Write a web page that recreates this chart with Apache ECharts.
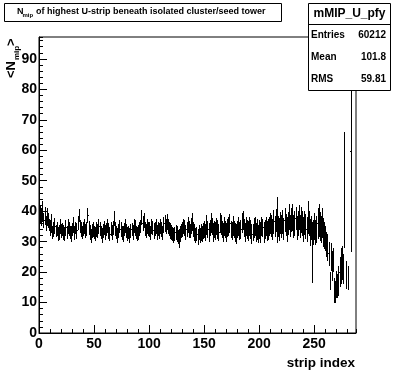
<!DOCTYPE html>
<html><head><meta charset="utf-8">
<script src="https://cdn.jsdelivr.net/npm/echarts@6/dist/echarts.min.js"></script>
<style>html,body{margin:0;padding:0;background:#fff}#c{width:396px;height:372px}</style>
</head><body><div id="c"></div>
<script>
// Profile bin means (strip index bins 0..287); null = empty bin
const means = [
 35,39,38,40,37,38.5,36,38,37,35.5,
 34.5,36,33,34,35,33.5,34,32.5,33,35,
 33.5,34,33,32.5,34.5,33,35,34,33,32.5,
 34,35.5,33,34.5,33.5,36,38.5,35,34,33,
 34,35,33.5,34,38.5,34.5,33,32,33.5,34,
 33,32.5,34,33.5,35,34,33,32,33.5,34.5,
 33,34,35,33.5,32.5,34,33,34.5,37.5,34,
 33,32,33.5,35,34,33,32.5,34,35,33.5,
 32.5,33,32,33.5,34,33,35,34.5,33,32.5,
 33,34,35,38,36,37,34,33.5,35,34,
 34,33,35,34.5,33.5,34,35,33,34,33.5,
 35,34,33,35.5,36,35,36.5,35,34,33.5,
 33,32.5,32,32.5,33,32.5,31.5,31,32.5,33.5,
 34,35,34.5,33,34,35.5,34,33.5,35,36.5,
 34,33,32,32.5,31.5,33,32,33,32.5,33.5,
 34,33,35.5,34,33,34.5,36,35,33,34,
 33.5,35,34,33,36,35.5,34,33,35,34,
 33,34.5,35,36,34,33.5,35,34,33,32.5,
 34,35,33.5,34,36,37,34.5,33,35,34,
 33.5,35,34,32.5,33,34.5,35,33,34,32.5,
 34,33,35,34.5,33,34,35,33.5,34,35,
 36,35,34,36.5,35,37,37,35,34,36,
 35,36.5,34,37,35.5,34,36,38,35,37,
 38,35,36,37.5,34.5,36,38,35,37,36,
 34,36,35,34,38,36,33,34.5,26.5,33,
 35,33,34,36,37,35,34,36,33,32,
 31,29,28,26,17,25,22,24,14,13.5,
 16,15.5,17,20,22,23,21,47,null,19,
 null,18,null,59.5,null,null,null,null
];
// Errors on the means
const errors = [
 10,3,3,3.5,2.5,3,2.5,3,2.5,2,
 2.5,3,2.2,2.4,2.6,2.1,2.3,2.2,2.6,2.4,
 2.3,2.1,2.5,2.2,2.7,2.1,2.4,2.3,2.2,2.5,
 2.2,2.7,2.3,2.1,2.5,2.3,2.2,2.1,2.4,2.2,
 2.3,2.5,2.2,2.3,2.4,2.2,2.4,2.3,2.2,2.5,
 2.2,2.3,2.5,2.2,2.4,2.3,2.2,2.5,2.3,2.2,
 2.4,2.2,2.3,2.5,2.2,2.3,2.4,2.2,2.5,2.3,
 2.2,2.5,2.3,2.2,2.4,2.3,2.5,2.2,2.3,2.4,
 2.3,2.2,2.5,2.3,2.2,2.4,2.3,2.5,2.2,2.3,
 2.4,2.3,2.2,2.4,2.5,2.4,2.3,2.2,2.5,2.3,
 2.5,2.3,2.4,2.2,2.5,2.3,2.4,2.6,2.3,2.5,
 2.4,2.6,2.3,2.5,2.7,2.4,2.6,2.5,2.3,2.6,
 2.5,2.4,2.6,2.3,2.5,2.7,2.4,3,2.5,2.4,
 2.6,2.5,2.7,2.4,2.6,2.5,2.7,2.4,2.6,2.9,
 2.5,2.7,2.6,2.4,2.7,2.5,2.6,2.7,2.5,2.6,
 2.9,2.7,3.2,2.8,3,2.7,3.3,2.9,3.1,2.8,
 3,2.8,3.1,2.9,3.3,3.2,2.9,3.1,3,2.8,
 3.1,2.9,3.2,3,2.8,3.1,3.3,2.9,3,3.2,
 2.9,3.1,3,3.2,3.3,3.1,2.9,3.2,3,3.1,
 3.2,3,3.1,3.3,2.9,3.2,3,3.1,3.3,3,
 3.1,3.3,3.2,3,3.4,3.2,3.1,3.3,3.5,3.2,
 3.4,3.6,3.3,3.9,3.5,3.7,7.5,3.5,3.8,3.6,
 3.7,4,3.6,3.9,3.7,4.1,3.8,4.2,3.6,3.9,
 4.5,3.9,4.1,3.8,4,4.2,4.1,3.9,4.3,4,
 4.1,3.9,4.2,4,5.5,4.1,4.3,4,10,4.2,
 4.3,4.1,4.5,5,5.5,4.7,4.5,4.9,4.7,4.4,
 4,4.2,4.5,4,3,4.5,5,4,4,3.5,
 4.5,4,5,5,6,5.5,5,19,0,4.5,
 0,4,0,33,0,0,0,0
];
const xTicks = [0, 50, 100, 150, 200, 250];
const yTicks = [0, 10, 20, 30, 40, 50, 60, 70, 80, 90];
const statsTitle = 'mMIP_U_pfy';
const statsRows = [['Entries', '60212'], ['Mean', '101.8'], ['RMS', '59.81']];
const titleMain = ' of highest U-strip beneath isolated cluster/seed tower';

const X_MAX = 288, Y_MAX = 97.2;
const data = [];
means.forEach((m, i) => { if (m !== null) data.push([i, m, errors[i]]); });

const FF = '"Liberation Sans", Arial, Helvetica, sans-serif';
const chart = echarts.init(document.getElementById('c'), null, {renderer: 'canvas'});
const black = '#000';
const txt = (x, y, text, size, align, vAlign, extra) => Object.assign({
  type: 'text', x: x, y: y, z: 100,
  style: {text: text, fill: black, font: 'bold ' + size + 'px ' + FF, align: align, verticalAlign: vAlign}
}, extra || {});
const snap = v => Math.floor(v) + 0.5;

chart.setOption({
  animation: false,
  backgroundColor: '#fff',
  grid: {left: 39, right: 40, top: 37, bottom: 39, show: true, borderColor: black, borderWidth: 1, backgroundColor: 'transparent'},
  xAxis: [{
    type: 'value', min: 0, max: X_MAX, interval: 50, position: 'bottom',
    axisLine: {show: true, onZero: false, lineStyle: {color: black, width: 1}},
    axisTick: {show: true, inside: true, length: 8, lineStyle: {color: black}},
    axisLabel: {show: true, color: black, fontFamily: FF, fontWeight: 'bold', fontSize: 14, margin: 4, showMaxLabel: false},
    splitLine: {show: false}
  }, {
    type: 'value', min: 0, max: X_MAX, interval: 10, position: 'bottom',
    axisLine: {show: false, onZero: false},
    axisTick: {show: true, inside: true, length: 4, lineStyle: {color: black}},
    axisLabel: {show: false}, splitLine: {show: false}
  }],
  yAxis: [{
    type: 'value', min: 0, max: Y_MAX, interval: 10, position: 'left',
    axisLine: {show: true, onZero: false, lineStyle: {color: black, width: 1}},
    axisTick: {show: true, inside: true, length: 8, lineStyle: {color: black}},
    axisLabel: {show: true, color: black, fontFamily: FF, fontWeight: 'bold', fontSize: 14, margin: 2, showMaxLabel: false},
    splitLine: {show: false}
  }, {
    type: 'value', min: 0, max: Y_MAX, interval: 2, position: 'left',
    axisLine: {show: false, onZero: false},
    axisTick: {show: true, inside: true, length: 4, lineStyle: {color: black}},
    axisLabel: {show: false}, splitLine: {show: false}
  }],
  series: [{
    type: 'custom', xAxisIndex: 0, yAxisIndex: 0, clip: true,
    data: data,
    encode: {x: 0, y: 1},
    renderItem: function (params, api) {
      const b = api.value(0), m = api.value(1), e = api.value(2);
      const l = api.coord([b, m]), r = api.coord([b + 1, m]);
      const t = api.coord([b + 0.5, m + e]), d = api.coord([b + 0.5, m - e]);
      const st = {stroke: black, lineWidth: 1, fill: null};
      const xm = snap(t[0]), ym = snap(l[1]);
      return {type: 'group', children: [
        {type: 'line', shape: {x1: Math.round(l[0]), y1: ym, x2: Math.max(Math.round(r[0]), Math.round(l[0]) + 1), y2: ym}, style: st},
        {type: 'line', shape: {x1: xm, y1: Math.round(t[1]), x2: xm, y2: Math.round(d[1])}, style: st}
      ]};
    }
  }],
  graphic: [
    // title box
    {type: 'rect', shape: {x: 4.5, y: 3.5, width: 277, height: 18}, style: {fill: '#fff', stroke: black, lineWidth: 1}, z: 99},
    txt(17, 12, 'N', 9, 'left', 'middle'),
    txt(22.5, 15.5, 'mip', 6, 'left', 'middle'),
    txt(33.5, 12, titleMain, 9, 'left', 'middle'),
    // stats box
    {type: 'rect', shape: {x: 308.5, y: 3.5, width: 82, height: 87}, style: {fill: '#fff', stroke: black, lineWidth: 1}, z: 99},
    {type: 'line', shape: {x1: 308.5, y1: 24.5, x2: 390.5, y2: 24.5}, style: {stroke: black, lineWidth: 1}, z: 100},
    txt(349.5, 14, statsTitle, 12, 'center', 'middle'),
    txt(311, 35, statsRows[0][0], 10, 'left', 'middle'),
    txt(386, 35, statsRows[0][1], 10, 'right', 'middle'),
    txt(311, 57, statsRows[1][0], 10, 'left', 'middle'),
    txt(386, 57, statsRows[1][1], 10, 'right', 'middle'),
    txt(311, 79, statsRows[2][0], 10, 'left', 'middle'),
    txt(386, 79, statsRows[2][1], 10, 'right', 'middle'),
    // x axis title
    txt(355, 363, 'strip index', 13.5, 'right', 'middle'),
    // y axis title (rotated)
    {type: 'group', x: 0, y: 78, rotation: Math.PI / 2, z: 100, children: [
      txt(0, 11, '<N', 13, 'left', 'middle'),
      txt(18, 17, 'mip', 8, 'left', 'middle'),
      txt(32, 11, '>', 13, 'left', 'middle')
    ]}
  ]
});
</script>
</body></html>
